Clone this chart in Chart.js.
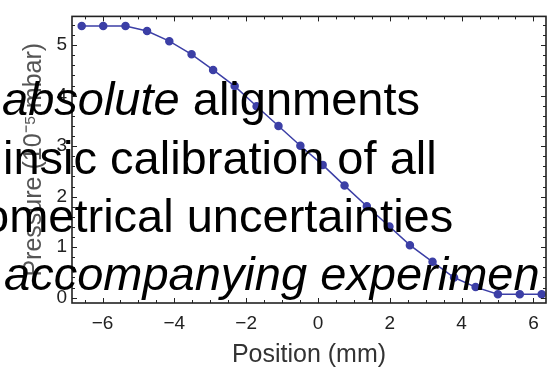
<!DOCTYPE html>
<html>
<head>
<meta charset="utf-8">
<script src="https://cdn.jsdelivr.net/npm/chart.js@4"></script>
<style>
  html, body { margin: 0; padding: 0; background: #fff; overflow: hidden; }
  #wrap { position: relative; width: 551px; height: 370px; overflow: hidden; }
  #pressureChart { position: absolute; left: 0; top: 0; }
  .slide-line {
    position: absolute;
    white-space: nowrap;
    font-family: "Liberation Sans", Arial, sans-serif;
    font-size: 47px;
    line-height: 47px;
    color: #000;
  }
</style>
</head>
<body>
<div id="wrap">
  <canvas id="pressureChart" width="551" height="370"></canvas>
  <div class="slide-line" style="left:2px; top:75px;"><i>absolute</i> alignments</div>
  <div class="slide-line" style="left:3px; top:134px;">insic calibration of all</div>
  <div class="slide-line" style="left:-17px; top:192px;">ometrical uncertainties</div>
  <div class="slide-line" style="left:4px; top:250px;"><i>accompanying experimen</i></div>
</div>
<script>
const positions = [-6.58, -5.98, -5.36, -4.76, -4.14, -3.52, -2.92, -2.32, -1.71, -1.10, -0.49,
  0.13, 0.74, 1.36, 1.99, 2.56, 3.19, 3.79, 4.39, 5.01, 5.62, 6.23];
const pressures = [5.38, 5.38, 5.38, 5.28, 5.08, 4.82, 4.51, 4.19, 3.79, 3.40, 3.01,
  2.63, 2.22, 1.81, 1.41, 1.04, 0.71, 0.40, 0.21, 0.07, 0.07, 0.07];
const xTicks = [-6, -4, -2, 0, 2, 4, 6];
const yTicks = [0, 1, 2, 3, 4, 5];

const lineColor = "#3c3fa6";
const frameColor = "#222";
const labelFont = "'Liberation Sans', Arial, sans-serif";

// Mathematica style frame: box with inward major and minor ticks on every side
const frameTicks = {
  id: "frameTicks",
  afterDraw(chart) {
    const { ctx, chartArea: a, scales } = chart;
    const x = scales.x, y = scales.y;
    ctx.save();
    ctx.strokeStyle = frameColor;
    ctx.lineWidth = 1;
    for (let v = Math.ceil(x.min * 2) / 2; v <= x.max; v += 0.5) {
      const px = Math.round(x.getPixelForValue(v)) + 0.5;
      const len = Math.abs(v % 2) < 1e-6 ? 5 : 3;
      ctx.beginPath();
      ctx.moveTo(px, a.bottom); ctx.lineTo(px, a.bottom - len);
      ctx.moveTo(px, a.top); ctx.lineTo(px, a.top + len);
      ctx.stroke();
    }
    for (let i = Math.ceil(y.min * 5); i <= Math.floor(y.max * 5); i++) {
      const py = Math.round(y.getPixelForValue(i / 5)) + 0.5;
      const len = i % 5 === 0 ? 5 : 3;
      ctx.beginPath();
      ctx.moveTo(a.left, py); ctx.lineTo(a.left + len, py);
      ctx.moveTo(a.right, py); ctx.lineTo(a.right - len, py);
      ctx.stroke();
    }
    ctx.lineWidth = 1.6;
    ctx.strokeRect(a.left, a.top, a.right - a.left, a.bottom - a.top);
    ctx.restore();
  }
};

const minus = v => String(v).replace("-", "\u2212");

new Chart(document.getElementById("pressureChart"), {
  type: "scatter",
  data: {
    datasets: [{
      data: positions.map((p, i) => ({ x: p, y: pressures[i] })),
      showLine: true,
      borderColor: lineColor,
      backgroundColor: lineColor,
      borderWidth: 1.5,
      pointRadius: 3.5,
      pointHoverRadius: 3.5
    }]
  },
  options: {
    responsive: false,
    animation: false,
    devicePixelRatio: 1,
    layout: { padding: { top: 7, right: 4, left: 0, bottom: 0 } },
    plugins: { legend: { display: false }, tooltip: { enabled: false } },
    scales: {
      x: {
        type: "linear",
        min: -6.85,
        max: 6.35,
        grid: { display: false, drawTicks: false },
        border: { display: false },
        afterBuildTicks: s => { s.ticks = xTicks.map(v => ({ value: v })); },
        afterFit: s => { s.height = 67; },
        ticks: {
          padding: 9,
          color: "#222",
          font: { family: labelFont, size: 19 },
          callback: v => minus(v)
        },
        title: {
          display: true,
          text: "Position (mm)",
          color: "#333",
          padding: { top: 0, bottom: 0 },
          font: { family: labelFont, size: 25 }
        }
      },
      y: {
        type: "linear",
        min: -0.105,
        max: 5.57,
        grid: { display: false, drawTicks: false },
        border: { display: false },
        afterBuildTicks: s => { s.ticks = yTicks.map(v => ({ value: v })); },
        afterFit: s => { s.width = 72; },
        ticks: {
          padding: 5,
          color: "#222",
          font: { family: labelFont, size: 19 },
          callback: v => minus(v)
        },
        title: {
          display: true,
          text: "Pressure (10\u207B\u2075 mbar)",
          color: "#555",
          padding: { top: 19, bottom: 0 },
          font: { family: labelFont, size: 25 }
        }
      }
    }
  },
  plugins: [frameTicks]
});
</script>
</body>
</html>
